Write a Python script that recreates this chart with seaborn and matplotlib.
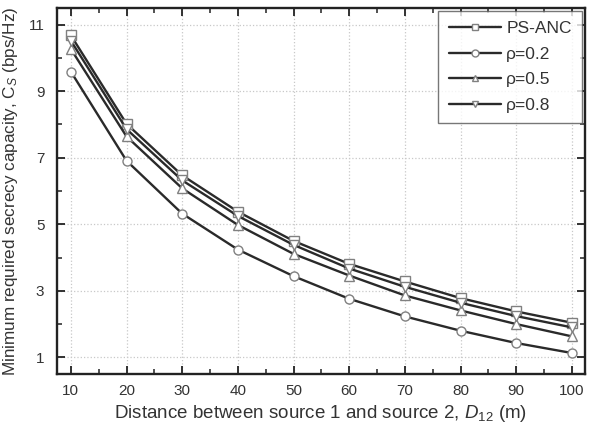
import numpy as np
import pandas as pd
import matplotlib
matplotlib.use("Agg")
import matplotlib.pyplot as plt
import seaborn as sns
from matplotlib.ticker import MultipleLocator

# distance between the two sources (m)
distance = [10, 20, 30, 40, 50, 60, 70, 80, 90, 100]

# minimum required secrecy capacity (bps/Hz)
ps_anc = [10.68, 8.02, 6.47, 5.38, 4.50, 3.81, 3.28, 2.78, 2.38, 2.04]
rho_02 = [9.59, 6.91, 5.32, 4.24, 3.44, 2.76, 2.23, 1.80, 1.43, 1.13]
rho_05 = [10.27, 7.64, 6.08, 4.98, 4.11, 3.46, 2.86, 2.41, 2.00, 1.63]
rho_08 = [10.52, 7.86, 6.32, 5.25, 4.38, 3.67, 3.12, 2.64, 2.24, 1.90]

series_names = ["PS-ANC", "\u03c1=0.2", "\u03c1=0.5", "\u03c1=0.8"]
series_markers = ["s", "o", "^", "v"]

df = pd.DataFrame({
    "distance": distance * 4,
    "capacity": ps_anc + rho_02 + rho_05 + rho_08,
    "scheme": np.repeat(series_names, len(distance)),
})

sns.set_style("white")
plt.rcParams["font.family"] = ["Liberation Sans", "DejaVu Sans"]
plt.rcParams["text.color"] = "#333333"
plt.rcParams["axes.labelcolor"] = "#333333"
plt.rcParams["xtick.color"] = "#222222"
plt.rcParams["ytick.color"] = "#222222"
plt.rcParams["xtick.labelcolor"] = "#333333"
plt.rcParams["ytick.labelcolor"] = "#333333"
plt.rcParams["mathtext.fontset"] = "custom"
plt.rcParams["mathtext.rm"] = "Liberation Sans"
plt.rcParams["mathtext.it"] = "Liberation Sans:italic"

fig = plt.figure(figsize=(5.93, 4.24), dpi=100)
ax = fig.add_axes([0.096, 0.118, 0.89, 0.863])

sns.lineplot(data=df, x="distance", y="capacity", hue="scheme", style="scheme",
             hue_order=series_names, style_order=series_names,
             palette=["#2a2a2a"] * 4, markers=dict(zip(series_names, series_markers)),
             dashes=False, linewidth=1.7, markersize=6.5,
             markerfacecolor="white", markeredgecolor="#808080", markeredgewidth=1.0,
             ax=ax)

ax.set_xlim(7.5, 102.3)
ax.set_ylim(0.5, 11.5)
ax.set_xticks(distance)
ax.set_yticks([1, 3, 5, 7, 9, 11])
ax.xaxis.set_minor_locator(MultipleLocator(5))
ax.yaxis.set_minor_locator(MultipleLocator(1))
ax.tick_params(which="both", direction="in", bottom=True, left=True, top=True, right=True,
               labelsize=11)
ax.tick_params(axis="y", pad=9)
ax.tick_params(axis="x", pad=7)
ax.tick_params(which="major", length=6, width=1.3)
ax.tick_params(which="minor", length=3.5, width=1.1)
ax.grid(True, which="major", linestyle=":", color="#c8c8c8", linewidth=0.9)
for sp in ax.spines.values():
    sp.set_color("#222222")
    sp.set_linewidth(1.7)

ax.set_xlabel("Distance between source 1 and source 2, $\\mathit{D}_{12}$ (m)", fontsize=13.5, labelpad=4)
ax.set_ylabel("Minimum required secrecy capacity, $\\mathrm{C}_S$ (bps/Hz)", fontsize=12.3, labelpad=6)

leg = ax.legend(title=None, loc="upper right", fontsize=12.5, frameon=True, fancybox=False,
                borderaxespad=0.15, handlelength=3.0, labelspacing=0.6, handletextpad=0.3,
                borderpad=0.6)
leg.get_frame().set_edgecolor("#555555")
leg.get_frame().set_linewidth(1.0)
for h in leg.legend_handles:
    h.set_markersize(5)

fig.savefig("out.png", dpi=100)
